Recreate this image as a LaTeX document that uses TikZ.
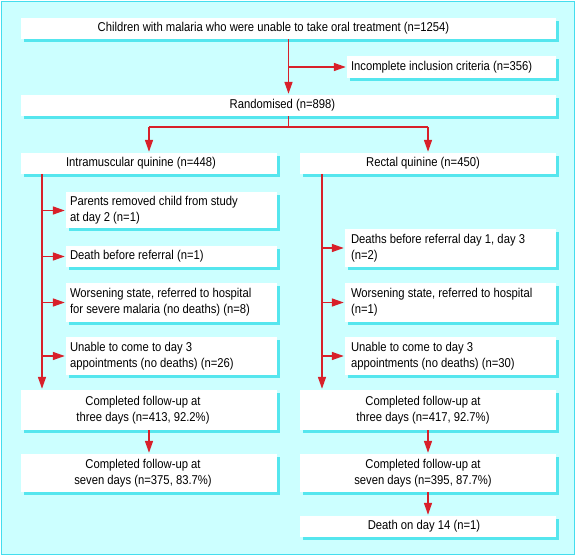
\documentclass[tikz,border=0pt]{standalone}
\usepackage{fontspec}
\setmainfont[FakeStretch=0.88]{Liberation Sans}
\usetikzlibrary{arrows.meta,shadows}
\definecolor{bg}{HTML}{CCFFFF}
\definecolor{shd}{HTML}{55E6EE}
\definecolor{framec}{HTML}{44DDEE}
\definecolor{arr}{HTML}{D8202A}
\tikzset{
  box/.style={rectangle, fill=white, draw=none, inner sep=0pt,
    drop shadow={shadow xshift=2.5pt, shadow yshift=-3pt, fill=shd, opacity=1}},
  txt/.style={inner sep=0pt, font=\fontsize{12.8}{16}\selectfont, align=center},
  ltxt/.style={txt, anchor=west, align=left},
  conn/.style={draw=arr, line width=1.5pt},
  arrow/.style={conn, -{Triangle[length=12pt,width=8pt]}, shorten >=1pt},
}
\begin{document}
\begin{tikzpicture}[x={(1pt,0)}, y={(0,-1pt)}]
\useasboundingbox (0,0) rectangle (576,556);
\draw[draw=framec, line width=1.5pt, fill=bg] (1.5,1.5) rectangle (574.5,554.5);

% boxes
\node[box, minimum width=535pt, minimum height=21pt] (top) at (288.5,28.5) {};
\node[box, minimum width=209pt, minimum height=22pt] (incl) at (451.5,67) {};
\node[box, minimum width=535pt, minimum height=21pt] (rand) at (288.5,105.5) {};
\node[box, minimum width=256pt, minimum height=21pt] (im) at (149,163.5) {};
\node[box, minimum width=256pt, minimum height=21pt] (rq) at (428,163.5) {};
\node[box, minimum width=211pt, minimum height=36pt] (L1) at (171.5,210.5) {};
\node[box, minimum width=211pt, minimum height=21pt] (L2) at (171.5,256.5) {};
\node[box, minimum width=211pt, minimum height=39pt] (L3) at (171.5,302.5) {};
\node[box, minimum width=211pt, minimum height=38pt] (L4) at (171.5,356) {};
\node[box, minimum width=211pt, minimum height=38pt] (R1) at (450.5,248) {};
\node[box, minimum width=211pt, minimum height=39pt] (R2) at (450.5,302.5) {};
\node[box, minimum width=211pt, minimum height=38pt] (R3) at (450.5,356) {};
\node[box, minimum width=256pt, minimum height=40pt] (LC3) at (149,410) {};
\node[box, minimum width=256pt, minimum height=40pt] (RC3) at (428,410) {};
\node[box, minimum width=256pt, minimum height=38pt] (LC7) at (149,473) {};
\node[box, minimum width=256pt, minimum height=38pt] (RC7) at (428,473) {};
\node[box, minimum width=256pt, minimum height=21pt] (D14) at (428,526.5) {};

% texts
\node[txt] (topT) at ([xshift=-15pt]top.center) {Children with malaria who were unable to take oral treatment (n=1254)};
\node[ltxt] (inclT) at ([xshift=4pt]incl.west) {Incomplete inclusion criteria (n=356)};
\node[txt] (randT) at ([xshift=-6pt]rand.center) {Randomised (n=898)};
\node[txt] (imT) at ([xshift=-8pt]im.center) {Intramuscular quinine (n=448)};
\node[txt] (rqT) at ([xshift=-5pt]rq.center) {Rectal quinine (n=450)};
\node[ltxt] (L1T) at ([xshift=4pt]L1.west) {Parents removed child from study\\at day 2 (n=1)};
\node[ltxt] (L2T) at ([xshift=4pt]L2.west) {Death before referral (n=1)};
\node[ltxt] (L3T) at ([xshift=4pt]L3.west) {Worsening state, referred to hospital\\for severe malaria (no deaths) (n=8)};
\node[ltxt] (L4T) at ([xshift=4pt]L4.west) {Unable to come to day 3\\appointments (no deaths) (n=26)};
\node[ltxt] (R1T) at ([xshift=6pt]R1.west) {Deaths before referral day 1, day 3\\(n=2)};
\node[ltxt] (R2T) at ([xshift=6pt]R2.west) {Worsening state, referred to hospital\\(n=1)};
\node[ltxt] (R3T) at ([xshift=6pt]R3.west) {Unable to come to day 3\\appointments (no deaths) (n=30)};
\node[txt] (LC3T) at ([xshift=-6pt]LC3.center) {Completed follow-up at\\three days (n=413, 92.2\%)};
\node[txt] (RC3T) at ([xshift=-5pt]RC3.center) {Completed follow-up at\\three days (n=417, 92.7\%)};
\node[txt] (LC7T) at ([xshift=-6pt]LC7.center) {Completed follow-up at\\seven days (n=375, 83.7\%)};
\node[txt] (RC7T) at ([xshift=-5pt]RC7.center) {Completed follow-up at\\seven days (n=395, 87.7\%)};
\node[txt] (D14T) at ([xshift=-4pt]D14.center) {Death on day 14 (n=1)};

% connectors
\draw[arrow] (top.south) -- (rand.north);
\draw[arrow] (top.south |- incl.west) -- (incl.west);
\draw[conn] (rand.south) -- ++(0,11) coordinate (split);
\draw[conn] (im.north |- split) -- (rq.north |- split);
\draw[arrow] (im.north |- split) -- (im.north);
\draw[arrow] (rq.north |- split) -- (rq.north);

\coordinate (lsp) at (42,174);
\coordinate (rsp) at (322,174);
\draw[arrow] (lsp) -- (lsp |- LC3.north);
\draw[arrow] (rsp) -- (rsp |- RC3.north);
\foreach \b in {L1,L2,L3,L4} \draw[arrow] (lsp |- \b.west) -- (\b.west);
\foreach \b in {R1,R2,R3} \draw[arrow] (rsp |- \b.west) -- (\b.west);

\draw[arrow] (LC3.south) -- (LC7.north);
\draw[arrow] (RC3.south) -- (RC7.north);
\draw[arrow] (RC7.south) -- (D14.north);
\end{tikzpicture}
\end{document}
